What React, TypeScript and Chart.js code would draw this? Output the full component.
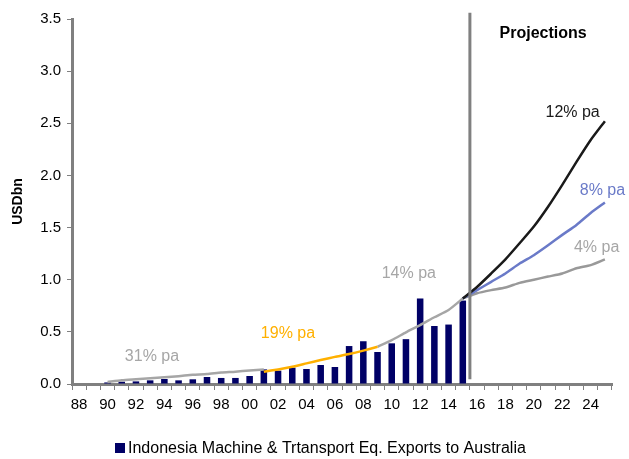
import { useEffect, useRef } from "react";
import { Chart, registerables } from "chart.js";

Chart.register(...registerables);

const FONT = "'Liberation Sans', Arial, Helvetica, sans-serif";

// Calendar years on the category axis (1988 - 2025)
const years = [
  "1988", "1989", "1990", "1991", "1992", "1993", "1994", "1995", "1996", "1997",
  "1998", "1999", "2000", "2001", "2002", "2003", "2004", "2005", "2006", "2007",
  "2008", "2009", "2010", "2011", "2012", "2013", "2014", "2015", "2016", "2017",
  "2018", "2019", "2020", "2021", "2022", "2023", "2024", "2025",
];

// Tick labels shown under the axis (every second year)
const tickLabels = [
  "88", "", "90", "", "92", "", "94", "", "96", "",
  "98", "", "00", "", "02", "", "04", "", "06", "",
  "08", "", "10", "", "12", "", "14", "", "16", "",
  "18", "", "20", "", "22", "", "24", "",
];

// Indonesia machinery & transport equipment exports to Australia, USD bn
const exportsUsdBn = [
  null, null, 0.015, 0.022, 0.025, 0.035, 0.048, 0.035, 0.045, 0.067,
  0.058, 0.058, 0.077, 0.14, 0.128, 0.157, 0.144, 0.182, 0.163, 0.364,
  0.41, 0.307, 0.39, 0.43, 0.82, 0.556, 0.57, 0.8, null, null,
  null, null, null, null, null, null, null, null,
];

// Historical trend (31% pa to 2001, 14% pa from 2009)
const trendHistory = [
  null, null, 0.02, 0.035, 0.045, 0.055, 0.065, 0.075, 0.088, 0.095,
  0.11, 0.118, 0.13, 0.14, null, null, null, null, null, null,
  null, 0.357, 0.42, 0.495, 0.565, 0.64, 0.71, 0.82, null, null,
  null, null, null, null, null, null, null, null,
];

// 19% pa trend, 2001 - 2009
const trendMid = [
  null, null, null, null, null, null, null, null, null, null,
  null, null, null, 0.118, 0.14, 0.166, 0.198, 0.23, 0.26, 0.287,
  0.32, 0.357, null, null, null, null, null, null, null, null,
  null, null, null, null, null, null, null, null,
];

// Projections from 2015
const proj12 = [
  null, null, null, null, null, null, null, null, null, null,
  null, null, null, null, null, null, null, null, null, null,
  null, null, null, null, null, null, null, 0.82, 0.93, 1.06,
  1.195, 1.35, 1.51, 1.7, 1.91, 2.13, 2.34, 2.52,
];
const proj8 = [
  null, null, null, null, null, null, null, null, null, null,
  null, null, null, null, null, null, null, null, null, null,
  null, null, null, null, null, null, null, 0.82, 0.9, 0.98,
  1.06, 1.155, 1.235, 1.33, 1.43, 1.525, 1.64, 1.74,
];
const proj4 = [
  null, null, null, null, null, null, null, null, null, null,
  null, null, null, null, null, null, null, null, null, null,
  null, null, null, null, null, null, null, 0.82, 0.87, 0.9,
  0.925, 0.97, 1.0, 1.03, 1.06, 1.11, 1.14, 1.195,
];

const yTicks = [0, 0.5, 1, 1.5, 2, 2.5, 3, 3.5];

const legendLabel = "Indonesia Machine & Trtansport Eq. Exports to Australia";

const NAVY = "#000066";
const GREY = "#a6a6a6";
const GREY_PROJ = "#999999";
const ORANGE = "#ffb000";
const BLUE = "#6a7ac8";
const BLACK = "#1a1a1a";
const AXIS = "#808080";

// Growth-rate notes, placed in axis units (category index, value)
const notes = [
  { text: "31% pa", x: 5.13, y: 0.264, color: GREY, bold: false },
  { text: "19% pa", x: 14.7, y: 0.479, color: ORANGE, bold: false },
  { text: "14% pa", x: 23.2, y: 1.055, color: GREY, bold: false },
  { text: "12% pa", x: 34.73, y: 2.603, color: BLACK, bold: false },
  { text: "8% pa", x: 36.83, y: 1.851, color: BLUE, bold: false },
  { text: "4% pa", x: 36.42, y: 1.309, color: GREY, bold: false },
  { text: "Projections", x: 32.65, y: 3.356, color: "#000000", bold: true },
];

const overlayPlugin = {
  id: "overlay",
  afterDatasetsDraw(chart: any) {
    const { ctx, scales } = chart;
    const xs = scales.x;
    const ys = scales.y;
    ctx.save();
    // divider between history and projections
    const lx = xs.getPixelForValue(27.5);
    ctx.strokeStyle = AXIS;
    ctx.lineWidth = 3;
    ctx.beginPath();
    ctx.moveTo(lx, ys.getPixelForValue(3.56));
    ctx.lineTo(lx, ys.getPixelForValue(0.045));
    ctx.stroke();

    ctx.textAlign = "center";
    ctx.textBaseline = "middle";
    for (const n of notes) {
      ctx.font = `${n.bold ? "bold " : ""}16px ${FONT}`;
      ctx.fillStyle = n.color;
      ctx.fillText(n.text, xs.getPixelForValue(n.x), ys.getPixelForValue(n.y));
    }
    ctx.restore();
  },
  afterDraw(chart: any) {
    const { ctx } = chart;
    ctx.save();
    ctx.fillStyle = NAVY;
    ctx.fillRect(115, 443, 10, 10);
    ctx.font = `16px ${FONT}`;
    ctx.fillStyle = "#000000";
    ctx.textAlign = "left";
    ctx.textBaseline = "middle";
    ctx.fillText(legendLabel, 128, 448.5);
    ctx.restore();
  },
};

export default function App() {
  const canvasRef = useRef<HTMLCanvasElement | null>(null);

  useEffect(() => {
    if (!canvasRef.current) return;
    const lineBase = {
      type: "line" as const,
      pointRadius: 0,
      borderWidth: 2.5,
      fill: false,
      tension: 0.2,
      spanGaps: false,
    };
    const chart = new Chart(canvasRef.current, {
      type: "bar",
      data: {
        labels: years,
        datasets: [
          { ...lineBase, label: "19% pa", data: trendMid, borderColor: ORANGE, order: 0 },
          { ...lineBase, label: "12% pa", data: proj12, borderColor: BLACK, order: 1 },
          { ...lineBase, label: "8% pa", data: proj8, borderColor: BLUE, order: 2 },
          { ...lineBase, label: "4% pa", data: proj4, borderColor: GREY_PROJ, order: 3 },
          { ...lineBase, label: "Trend", data: trendHistory, borderColor: GREY, order: 4 },
          {
            type: "bar",
            label: legendLabel,
            data: exportsUsdBn,
            backgroundColor: NAVY,
            categoryPercentage: 1,
            barPercentage: 0.46,
            order: 10,
          },
        ] as any,
      },
      options: {
        animation: false,
        responsive: true,
        maintainAspectRatio: false,
        layout: { padding: { top: 19, right: 17, left: 0, bottom: 0 } },
        plugins: {
          legend: { display: false },
          tooltip: { enabled: false },
        },
        scales: {
          x: {
            offset: true,
            grid: {
              offset: true,
              drawOnChartArea: false,
              drawTicks: true,
              tickLength: 6,
              color: AXIS,
              lineWidth: 1,
            },
            border: { color: AXIS, width: 3 },
            ticks: {
              autoSkip: false,
              maxRotation: 0,
              minRotation: 0,
              padding: 6,
              color: "#000000",
              font: { family: FONT, size: 15 },
              callback: (_v: any, i: number) => tickLabels[i],
            },
            afterFit: (s: any) => {
              s.height = 75;
            },
          },
          y: {
            min: 0,
            max: 3.5,
            afterBuildTicks: (s: any) => {
              s.ticks = yTicks.map((v) => ({ value: v }));
            },
            grid: {
              drawOnChartArea: false,
              drawTicks: true,
              tickLength: 5,
              color: AXIS,
              lineWidth: 1,
            },
            border: { color: AXIS, width: 3 },
            ticks: {
              padding: 6,
              color: "#000000",
              font: { family: FONT, size: 15 },
              callback: (v: any) => Number(v).toFixed(1),
            },
            title: {
              display: true,
              text: "USDbn",
              color: "#000000",
              font: { family: FONT, size: 14, weight: "bold" },
              padding: { top: 10, bottom: 0 },
            },
            afterFit: (s: any) => {
              s.width = 72;
            },
          },
        },
      },
      plugins: [overlayPlugin],
    });
    return () => chart.destroy();
  }, []);

  return (
    <div style={{ position: "absolute", left: 0, top: 0, width: 629, height: 459, background: "#ffffff" }}>
      <canvas ref={canvasRef} />
    </div>
  );
}
